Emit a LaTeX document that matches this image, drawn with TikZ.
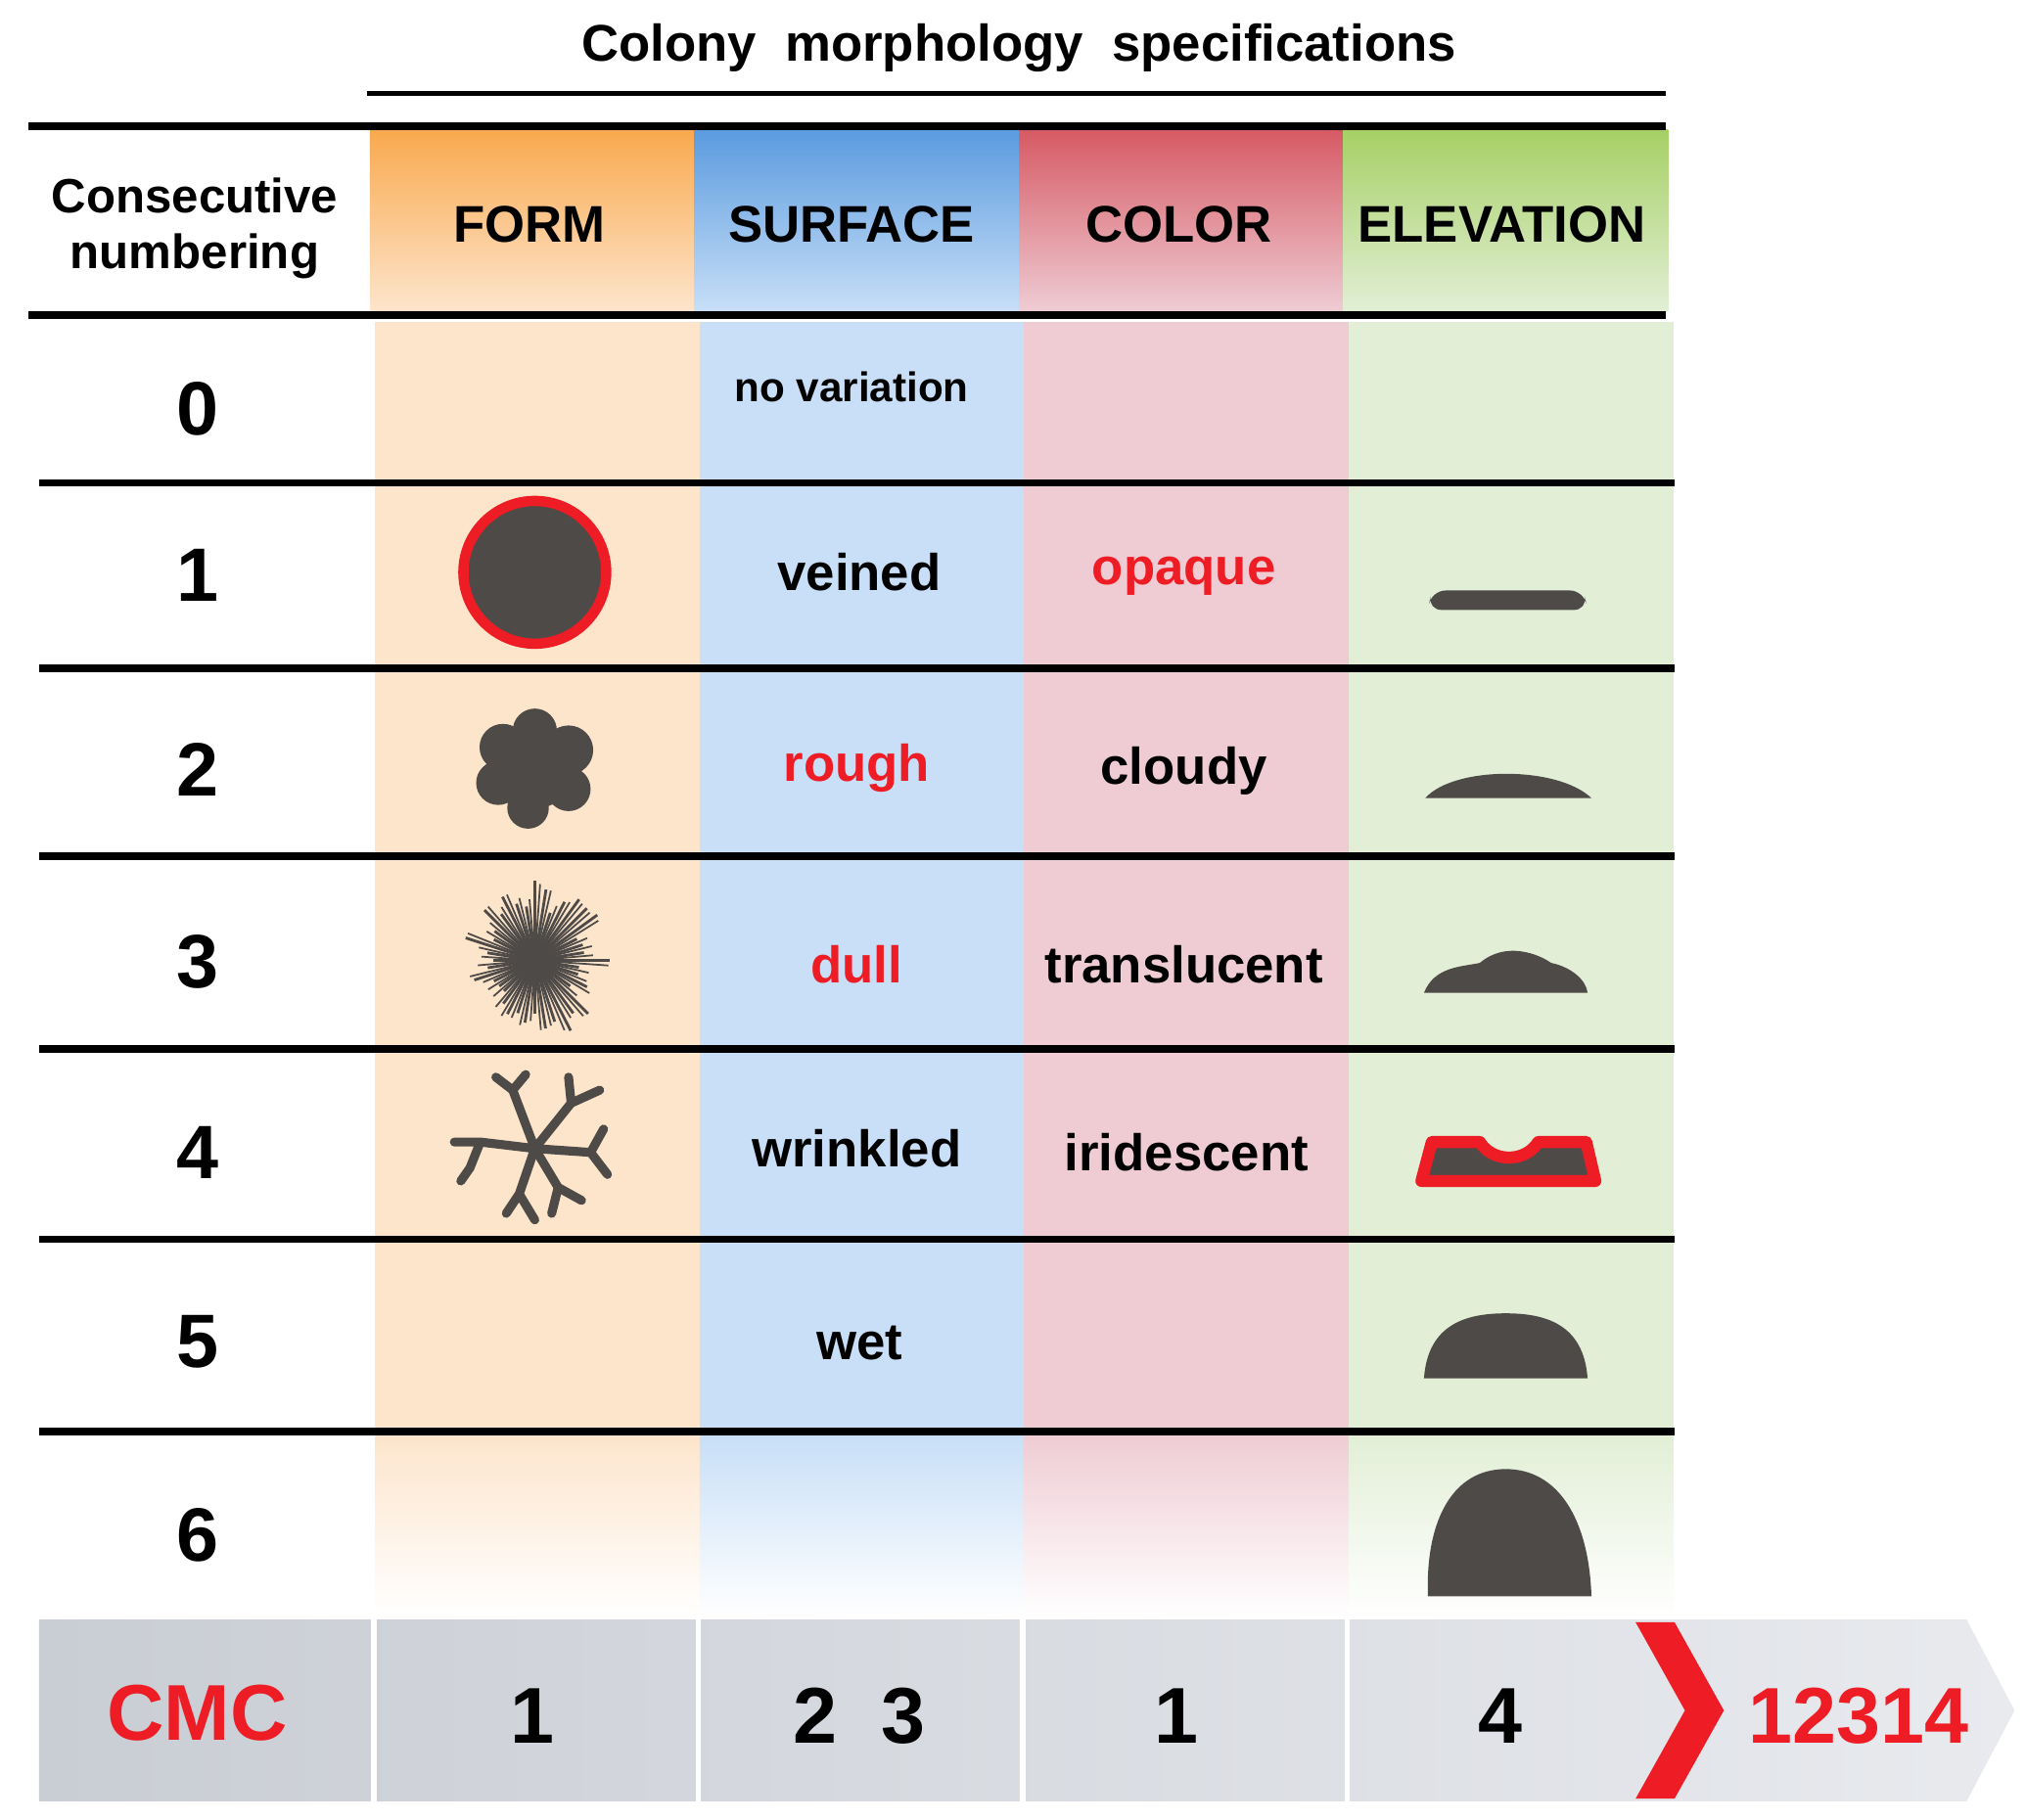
\documentclass[tikz,border=0pt]{standalone}
\usepackage{fontspec}
\setmainfont{Liberation Sans}
\usetikzlibrary{positioning}
\definecolor{hdorange}{HTML}{F9A94E}
\definecolor{bdorange}{HTML}{FDE5CC}
\definecolor{hdblue}{HTML}{5B9BDF}
\definecolor{bdblue}{HTML}{C8DFF7}
\definecolor{hdred}{HTML}{D65A64}
\definecolor{bdred}{HTML}{EFCCD4}
\definecolor{hdgreen}{HTML}{A6D065}
\definecolor{bdgreen}{HTML}{E2EFD6}
\definecolor{colony}{HTML}{4D4A48}
\definecolor{barlight}{HTML}{E8EAEE}
\definecolor{bardark}{HTML}{C9CDD4}
\definecolor{cmcred}{HTML}{EE1C24}
\tikzset{
  head/.style={font=\bfseries\fontsize{15}{17}\selectfont},
  cell/.style={font=\bfseries\fontsize{15}{17}\selectfont},
  num/.style={font=\bfseries\fontsize{22}{24}\selectfont},
  code/.style={font=\bfseries\fontsize{23}{25}\selectfont},
  rule/.style={line width=2.2pt},
  thin rule/.style={line width=1.6pt},
  blob/.style={fill=colony, draw=none}
}
\begin{document}
\begin{tikzpicture}[x=0.01326cm, y=-0.01326cm]
  \useasboundingbox (0,0) rectangle (1560,1402);

  % column fills
  \foreach \xa/\hc/\bc in {285/hdorange/bdorange, 535/hdblue/bdblue, 785/hdred/bdred, 1035/hdgreen/bdgreen} {
    \shade[top color=\hc, bottom color=\bc] (\xa,100) rectangle ++(250,140);
    \fill[\bc] (\xa+4,248) rectangle ++(250,860);
    \shade[top color=\bc, bottom color=white] (\xa+4,1106) rectangle ++(250,140);
  }

  % title
  \node[head] (title) at (785,37) {Colony\ \ morphology\ \ specifications};
  \draw[thin rule] (283,72) -- (1283,72);
  \draw[rule] (22,97) -- (1283,97);
  \draw[rule] (22,243) -- (1283,243);

  % header
  \node[head, align=center, font=\bfseries\fontsize{14}{16}\selectfont] (hnum) at (150,176) {Consecutive\\numbering};
  \node[head] (hform) at (408,173) {FORM};
  \node[head] (hsurf) at (656,173) {SURFACE};
  \node[head] (hcol) at (908,173) {COLOR};
  \node[head] (helev) at (1157,173) {ELEVATION};

  % rows
  \foreach \yy in {372,515,660,808,955,1103}
    \draw[rule] (30,\yy) -- (1290,\yy);
  \foreach \n/\yy in {0/315,1/443,2/593,3/741,4/888,5/1034,6/1183}
    \node[num] (n\n) at (152,\yy) {\n};

  % surface and color texts
  \node[cell, font=\bfseries\fontsize{12}{14}\selectfont] (s0) at (656,298) {no variation};
  \node[cell] (s1) at (662,441) {veined};
  \node[cell, text=cmcred] (s2) at (660,592) {rough};
  \node[cell, text=cmcred] (s3) at (660,743) {dull};
  \node[cell] (s4) at (660,885) {wrinkled};
  \node[cell] (s5) at (662,1035) {wet};
  \node[cell, text=cmcred] (c1) at (912,444) {opaque};
  \node[cell] (c2) at (912,594) {cloudy};
  \node[cell] (c3) at (912,743) {translucent};
  \node[cell] (c4) at (914,888) {iridescent};

  % forms
  \draw[blob, draw=cmcred, line width=3pt] (412,441) circle (55);
  \fill[colony] (412,593) circle (30);
  \foreach \a/\r in {100/16,160/17,215/18,270/17,330/19,30/17}
    \fill[colony] (412,593) ++(\a:30) circle (\r);
  \pgfmathsetseed{7}
  \foreach \a in {0,9,...,351} {
    \pgfmathsetmacro{\len}{30+32*rnd}
    \draw[colony, line width=0.8pt] (412,740) -- ++(\a:\len);
    \draw[colony, line width=0.5pt] (412,740) ++(\a+4:12) -- ++(\a+4:\len*0.6+10);
  }
  \fill[colony] (412,740) circle (12);
  \begin{scope}[colony, line width=2.6pt, line cap=round]
    \draw (412,885) -- (395,840) -- (382,830) (395,840) -- (405,828);
    \draw (412,885) -- (440,850) -- (462,840) (440,850) -- (438,830);
    \draw (412,885) -- (370,880) -- (350,880) (370,880) -- (362,900) -- (355,910);
    \draw (412,885) -- (455,888) -- (468,905) (455,888) -- (465,870);
    \draw (412,885) -- (400,920) -- (390,935) (400,920) -- (412,940);
    \draw (412,885) -- (430,915) -- (425,935) (430,915) -- (448,925);
  \end{scope}

  % elevations
  \fill[colony, rounded corners=4pt] (1100,470) -- (1103,455) -- (1220,455) -- (1223,470) -- cycle;
  \fill[colony] (1098,615) .. controls (1120,590) and (1200,590) .. (1226,615) -- cycle;
  \fill[colony] (1097,765) .. controls (1105,745) and (1125,745) .. (1140,742)
    .. controls (1160,725) and (1185,735) .. (1195,742)
    .. controls (1210,745) and (1222,755) .. (1223,765) -- cycle;
  \fill[colony, draw=cmcred, line width=3.5pt, line join=round] (1095,910) -- (1103,880) -- (1140,880)
    .. controls (1150,896) and (1175,896) .. (1185,880) -- (1222,880) -- (1229,910) -- cycle;
  \fill[colony] (1097,1062) .. controls (1100,1020) and (1130,1012) .. (1160,1012)
    .. controls (1190,1012) and (1220,1020) .. (1223,1062) -- cycle;
  \fill[colony] (1100,1230) .. controls (1098,1170) and (1120,1132) .. (1160,1132)
    .. controls (1200,1132) and (1224,1170) .. (1226,1230) -- cycle;

  % CMC bar
  \shade[left color=bardark, right color=barlight] (30,1248) -- (1515,1248) -- (1552,1318)
    -- (1515,1388) -- (30,1388) -- cycle;
  \foreach \xb in {288,538,788,1038}
    \draw[white, line width=1.5pt] (\xb,1248) -- (\xb,1388);
  \fill[cmcred] (1260,1250) -- (1290,1250) -- (1328,1318) -- (1290,1386) -- (1260,1386) -- (1298,1318) -- cycle;
  \node[code, text=cmcred] (cmc) at (152,1320) {CMC};
  \node[code] (k1) at (410,1322) {1};
  \node[code] (k2) at (662,1322) {2\ \ 3};
  \node[code] (k3) at (906,1322) {1};
  \node[code] (k4) at (1156,1322) {4};
  \node[code, text=cmcred] (total) at (1432,1322) {12314};
\end{tikzpicture}
\end{document}
